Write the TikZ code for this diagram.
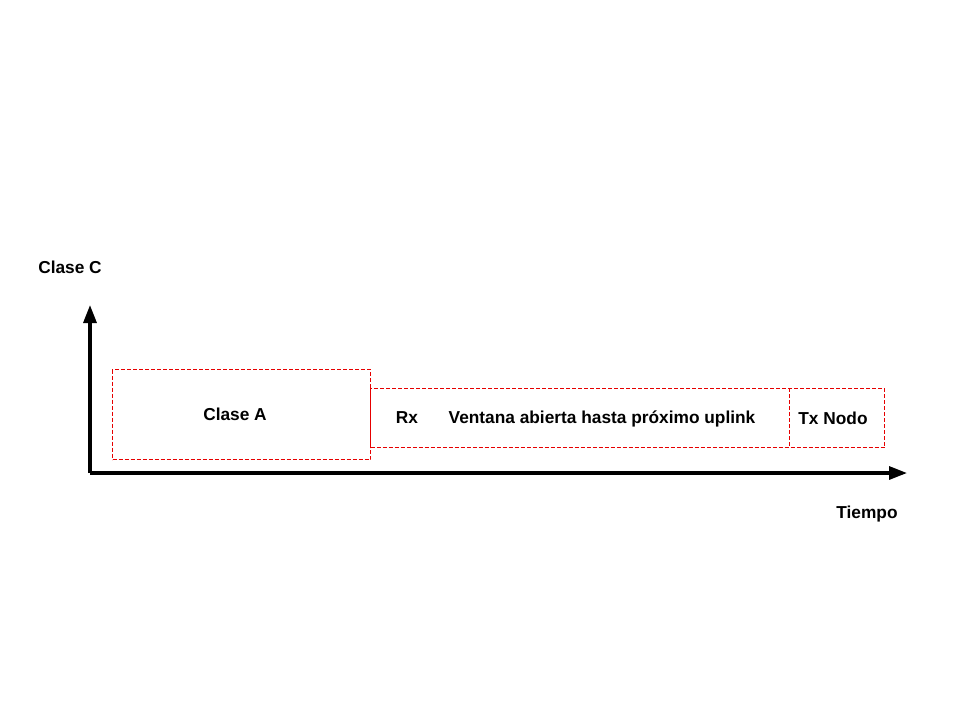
\documentclass[tikz,border=0pt]{standalone}
\usepackage{fontspec}
\setmainfont{Liberation Sans}
\usetikzlibrary{arrows.meta}

\definecolor{marcorojo}{RGB}{230,0,0}

\tikzset{
  rayado/.style={draw=marcorojo, line width=1pt, dash pattern=on 4pt off 2pt},
  ventanabox/.style={rayado, rectangle, inner sep=0pt, anchor=north west},
  etiqueta/.style={font=\fontsize{17.3}{20}\selectfont\bfseries, inner sep=0pt,
    text height=12.4pt, text depth=0pt},
  eje/.style={line width=3.2pt, -{Triangle[length=18pt, width=13pt]}}
}

\begin{document}
\begin{tikzpicture}[x=1pt, y=-1pt]

  \useasboundingbox (0, 0) rectangle (960, 720);

  %% ===================== EJES =====================
  \coordinate (origen) at (90, 473);
  \coordinate (ytop) at (90, 305);
  \coordinate (xend) at (907, 473);
  \draw[eje] (origen) -- (ytop);
  \draw[eje] (origen) -- (xend);

  \node[etiqueta] (claseC) at (70, 267) {Clase C};
  \node[etiqueta] (tiempo) at (867, 512) {Tiempo};

  %% ==================== VENTANAS ==================
  % Clase A (mas alta)
  \node[ventanabox, minimum width=258pt, minimum height=90pt] (claseA) at (112, 369) {};
  \node[etiqueta] at (235, 414) {Clase A};

  % Rx + ventana abierta + Tx del nodo (una sola franja)
  \node[ventanabox, minimum width=514pt, minimum height=59pt] (ventana) at (370, 388) {};
  \node[etiqueta] (rx) at (407, 417) {Rx};
  \node[etiqueta] (abierta) at (602, 417) {Ventana abierta hasta próximo uplink};

  % Tx del nodo, separado por un trazo
  \node[rectangle, inner sep=0pt, anchor=north west, minimum width=95pt,
    minimum height=59pt] (txnodo) at (789, 388) {};
  \draw[rayado] (txnodo.north west) -- (txnodo.south west);
  \node[etiqueta] at (833, 418) {Tx Nodo};

\end{tikzpicture}
\end{document}
